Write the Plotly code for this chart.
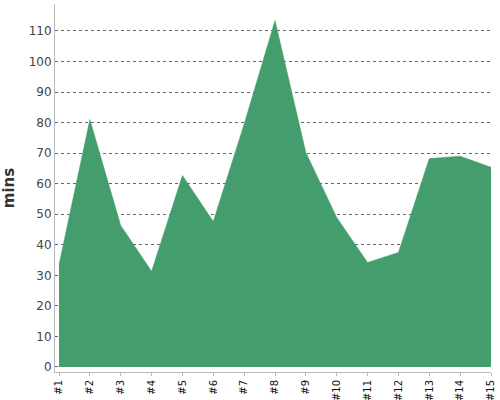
import plotly.graph_objects as go

# run labels and minutes per run
labels = ['#1', '#2', '#3', '#4', '#5', '#6', '#7', '#8', '#9', '#10',
          '#11', '#12', '#13', '#14', '#15']
minutes = [33.5, 81, 46.3, 31.3, 62.7, 47.6, 79.5, 113.4, 70.2, 48.9,
           34.2, 37.5, 68.2, 69, 65.4]
y_ticks = [0, 10, 20, 30, 40, 50, 60, 70, 80, 90, 100, 110]

fig = go.Figure()

fig.add_trace(go.Scatter(
    x=list(range(len(labels))), y=minutes,
    mode='lines',
    fill='tozeroy',
    fillcolor='rgb(68,157,108)',
    line=dict(color='rgb(68,157,108)', width=0.5),
    showlegend=False,
    hoverinfo='x+y'
))

fig.update_layout(
    width=500, height=400,
    margin=dict(l=55, r=9, t=4, b=28),
    plot_bgcolor='white',
    paper_bgcolor='white',
    font=dict(family='DejaVu Sans', color='#444'),
    xaxis=dict(
        range=[-0.13, 14],
        tickmode='array',
        tickvals=list(range(len(labels))),
        ticktext=labels,
        tickangle=-90,
        tickfont=dict(size=10, color='#111'),
        ticks='outside', ticklen=3, tickcolor='#bbb',
        showline=True, linecolor='#bbb', linewidth=1,
        showgrid=False, zeroline=False,
        automargin=False,
    ),
    yaxis=dict(
        range=[-1.64, 118.8],
        tickmode='array',
        tickvals=y_ticks,
        tickfont=dict(size=12, color='#444'),
        showline=True, linecolor='#bbb', linewidth=1,
        showgrid=True, gridcolor='#666', gridwidth=1, griddash='dot',
        zeroline=False,
        automargin=False,
        title=dict(text='<b>mins</b>', font=dict(size=15, color='#333')),
    ),
)

# drop the page's default body margin so the 500x400 figure sits at the origin
fig.write_html("out.html", config={'displayModeBar': False},
               post_script="document.body.style.margin='0px';")
